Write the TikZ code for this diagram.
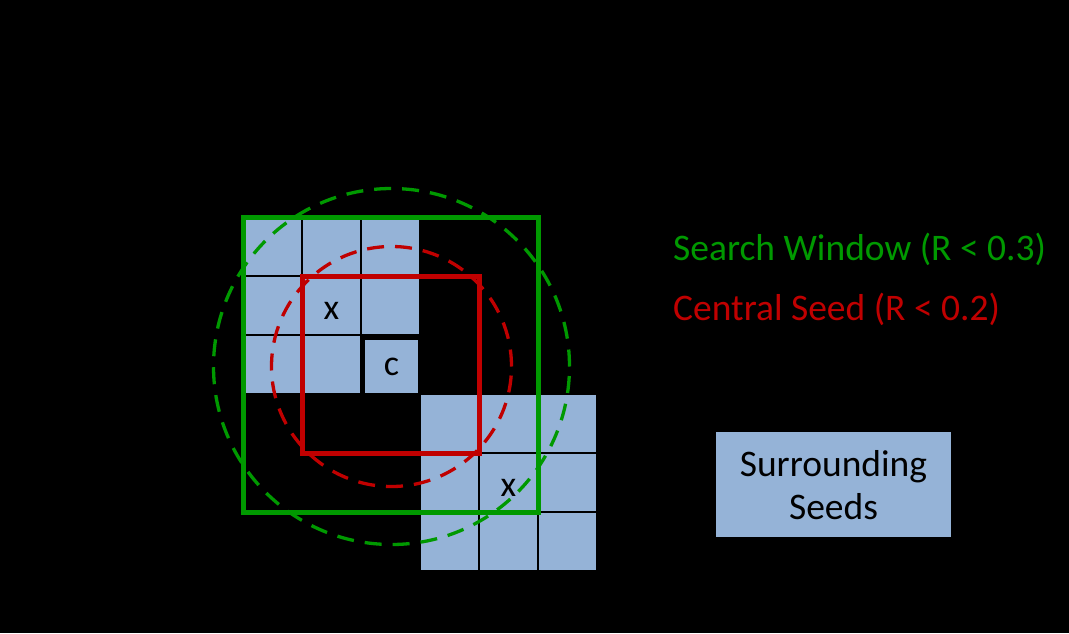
\documentclass[tikz,border=0pt]{standalone}
\usepackage{fontspec}
\setmainfont{Carlito}
\definecolor{cellblue}{HTML}{95B3D7}
\definecolor{swgreen}{HTML}{009900}
\definecolor{csred}{HTML}{C00000}
\begin{document}
\begin{tikzpicture}[x=1pt,y=-1pt,
  cell/.style={fill=cellblue,draw=black,line width=2pt,minimum size=59pt,inner sep=0pt,outer sep=0pt},
  seedcell/.style={fill=cellblue,draw=none,minimum size=53pt,inner sep=0pt,outer sep=0pt,font=\fontsize{36}{40}\selectfont},
  cellmark/.style={inner sep=0pt,font=\fontsize{36}{40}\selectfont},
  winsquare/.style={draw=swgreen,line width=5pt},
  seedsquare/.style={draw=csred,line width=5pt},
  wincircle/.style={draw=swgreen,line width=3.3pt,dash pattern=on 17pt off 11pt},
  seedcircle/.style={draw=csred,line width=3.3pt,dash pattern=on 17pt off 11pt},
  legend/.style={anchor=base west,inner sep=0pt,font=\fontsize{37.5}{44}\selectfont},
  legendbox/.style={fill=cellblue,draw=none,minimum width=235pt,minimum height=105pt},
  legendtext/.style={align=center,inner sep=0pt,font=\fontsize{37.5}{43.5}\selectfont}
]
\fill[black] (0,0) rectangle (1069,633);
\useasboundingbox (0,0) rectangle (1069,633);
% top-left grid
\foreach \i in {0,1,2} {
  \foreach \j in {0,1,2} {
    \ifnum\i\j=22\relax\else
      \node[cell] (a\i\j) at ({272.5+59*\i},{246.5+59*\j}) {};
    \fi
  }
}
\node[seedcell] (c) at (391.5,366.5) {\raisebox{-3.5pt}{c}};
% bottom-right grid
\foreach \i in {0,1,2} {
  \foreach \j in {0,1,2} {
    \node[cell] (b\i\j) at ({449.5+59*\i},{423.5+59*\j}) {};
  }
}
\node[cellmark] (xa) at ([yshift=-5.5pt]a11.center) {x};
\node[cellmark] (xb) at ([yshift=-5pt]b11.center) {x};
% circles
\draw[wincircle] (c.center) circle[radius=178pt];
\draw[seedcircle] (c.center) circle[radius=120pt];
% squares
\draw[winsquare] (a00.north west) rectangle (b11.south east);
\draw[seedsquare] (a11.north west) rectangle (b00.south east);
% legend
\node[legend,text=swgreen] (lw) at (673,260.5) {Search Window (R < 0.3)};
\node[legend,text=csred] (ls) at (673,320.5) {Central Seed (R < 0.2)};
\node[legendbox] (lb) at (833.5,484.5) {};
\node[legendtext] (lbt) at ([yshift=-0.5pt]lb.center) {Surrounding\\Seeds};
\end{tikzpicture}
\end{document}
